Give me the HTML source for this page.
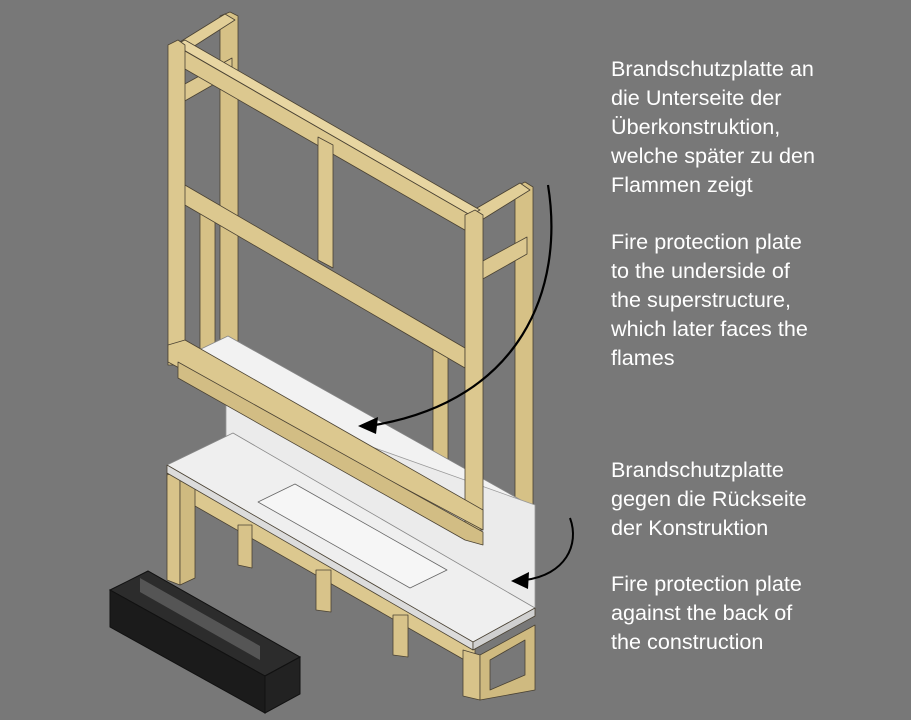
<!DOCTYPE html>
<html><head><meta charset="utf-8"><style>
html,body{margin:0;padding:0;background:#787878;}
svg{display:block}
text{font-family:"Liberation Sans",sans-serif;font-size:21.6px;fill:#fff}
</style></head><body>
<svg width="911" height="720" viewBox="0 0 911 720" xmlns="http://www.w3.org/2000/svg">
<rect width="911" height="720" fill="#787878"/>
<g stroke="#4a4233" stroke-width="0.8" stroke-linejoin="round">
<polygon points="220,16 230,12 238,16 238,345 220,345" fill="#d6c186"/>
<polygon points="515,187 525,182 533,187 533,505 515,505" fill="#d6c186"/>
<polygon points="175,45 225,14 235,20 185,52" fill="#e2cf98"/>
<polygon points="465,215 520,183 530,190 480,221" fill="#e2cf98"/>
<polygon points="183,85 232,58 232,74 183,102" fill="#dcc890"/>
<polygon points="481,262 527,237 527,254 481,280" fill="#dcc890"/>
<polygon points="200,210 215,210 215,360 200,360" fill="#d6c186"/>
<polygon points="433,345 448,345 448,495 433,495" fill="#d6c186"/>
<polygon points="178,360 228,336 535,508 485,532" fill="#f2f2f2" stroke="#888"/>
<polygon points="226,395 226,440 535,612 535,505" fill="#ebebeb" stroke="#999"/>
<polygon points="175,45 185,40 480,210 470,215" fill="#e8d6a2"/>
<polygon points="178,47 470,215 470,233 178,65" fill="#dcc88f"/>
<polygon points="318,137 333,145 333,268 318,260" fill="#dcc88f"/>
<polygon points="178,181 465,348 465,368 178,201" fill="#dcc88f"/>
<polygon points="168,45 178,40 185,45 185,365 168,365" fill="#dcc88f"/>
<polygon points="465,215 475,210 483,215 483,530 465,530" fill="#dcc88f"/>
<polygon points="168,345 185,340 483,510 483,530 168,362" fill="#dcc88f"/>
<polygon points="178,362 483,532 483,545 465,540 178,378" fill="#d2bd84"/>
<polygon points="167,473 475,648 475,666 167,490" fill="#dcc88f"/>
<polygon points="167,475 180,470 180,585 167,580" fill="#d8c38a"/>
<polygon points="180,478 195,483 195,578 180,585" fill="#cfba80"/>
<polygon points="238,525 252,525 252,568 238,565" fill="#d8c38a"/>
<polygon points="316,570 331,570 331,612 316,610" fill="#d8c38a"/>
<polygon points="393,615 408,615 408,657 393,655" fill="#d8c38a"/>
<polygon points="463,650 480,655 480,700 463,696" fill="#d8c38a"/>
<polygon points="480,655 535,625 535,690 480,700" fill="#cfba80"/>
<polygon points="490,660 525,640 525,675 490,690" fill="#787878"/>
<polygon points="167,465 233,433 535,608 473,642" fill="#efefef" stroke="#888"/>
<polygon points="167,465 473,642 473,650 167,473" fill="#dcdcdc"/>
<polygon points="473,642 535,608 535,616 473,650" fill="#d0d0d0"/>
<polygon points="258,502 295,484 447,570 410,588" fill="#f6f6f6" stroke="#666"/>
</g>
<polygon points="110,590 148,571 300,657 265,676" fill="#2c2c2c" stroke="#111"/>
<polygon points="110,590 265,676 265,713 110,627" fill="#1b1b1b" stroke="#111"/>
<polygon points="265,676 300,657 300,694 265,713" fill="#222" stroke="#111"/>
<polygon points="140,578 260,646 260,660 140,592" fill="#555"/>
<path d="M548,185 C565,290 520,400 375,425" fill="none" stroke="#000" stroke-width="2.2"/>
<polygon points="358,426 378,417 376,434" fill="#000"/>
<path d="M570,518 C580,545 565,575 525,580" fill="none" stroke="#000" stroke-width="2"/>
<polygon points="511,581 529,572 528,589" fill="#000"/>
<text x="611" y="76">Brandschutzplatte an</text>
<text x="611" y="105">die Unterseite der</text>
<text x="611" y="134">Überkonstruktion,</text>
<text x="611" y="163">welche später zu den</text>
<text x="611" y="192">Flammen zeigt</text>
<text x="611" y="249">Fire protection plate</text>
<text x="611" y="278">to the underside of</text>
<text x="611" y="307">the superstructure,</text>
<text x="611" y="336">which later faces the</text>
<text x="611" y="365">flames</text>
<text x="611" y="477">Brandschutzplatte</text>
<text x="611" y="506">gegen die Rückseite</text>
<text x="611" y="535">der Konstruktion</text>
<text x="611" y="591">Fire protection plate</text>
<text x="611" y="620">against the back of</text>
<text x="611" y="649">the construction</text>
</svg>
</body></html>
